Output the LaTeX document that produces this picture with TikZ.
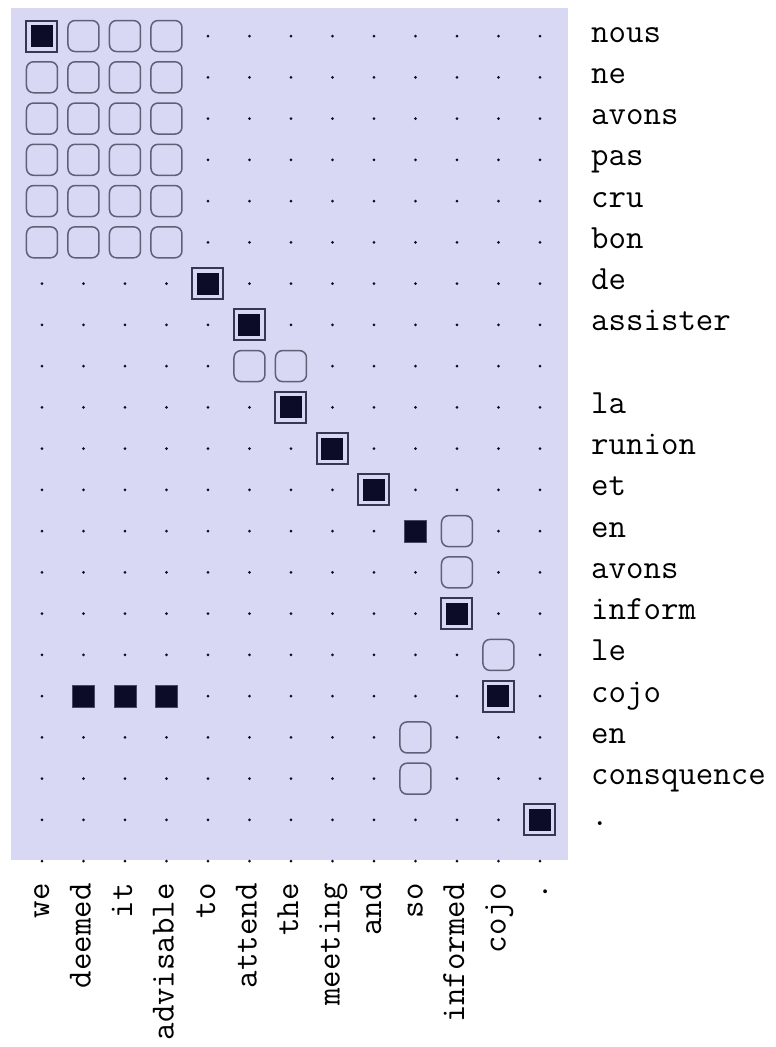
\documentclass[tikz,border=0pt]{standalone}
\usepackage{xcolor}
\usepackage{tikz}
\usetikzlibrary{positioning}
\definecolor{gridbg}{RGB}{216,216,244}
\definecolor{ink}{RGB}{12,12,40}
\definecolor{rim}{RGB}{55,55,80}
\definecolor{softrim}{RGB}{95,95,118}
\tikzset{
  surebox/.style={draw=rim, line width=2pt, fill=gridbg, minimum size=31pt,
                  inner sep=0pt},
  surefill/.style={fill=ink, minimum size=22pt, inner sep=0pt},
  maybebox/.style={draw=softrim, line width=1.5pt, fill=gridbg, rounded corners=7pt,
                   minimum size=31pt, inner sep=0pt},
  plainfill/.style={fill=ink, draw=ink!70!gridbg, line width=0.6pt,
                    minimum size=22pt, inner sep=0pt},
  word/.style={font=\fontsize{33.9}{40}\selectfont\ttfamily, inner sep=0pt},
}

\begin{document}
\begin{tikzpicture}[x=41.5pt,y=-41.26pt]
  \useasboundingbox (-0.012,0.127) rectangle (18.663,25.503);
  \fill[gridbg] (0.25,0.32) rectangle (13.67,20.97);
  % grid dots
  \foreach \c in {1,...,13}
    \foreach \r in {1,...,21}
      \fill[ink] (\c,\r) circle (1.5pt);
  % possible links
  \foreach \c/\r in {2/1,3/1,4/1,1/2,2/2,3/2,4/2,1/3,2/3,3/3,4/3,1/4,2/4,3/4,4/4,
                     1/5,2/5,3/5,4/5,1/6,2/6,3/6,4/6,6/9,7/9,11/13,11/14,12/16,
                     10/18,10/19}
    \node[maybebox] (maybe-\c-\r) at (\c,\r) {};
  % sure links
  \foreach \c/\r in {1/1,5/7,6/8,7/10,8/11,9/12,11/15,12/17,13/20} {
    \node[surebox] (sure-\c-\r) at (\c,\r) {};
    \node[surefill] (core-\c-\r) at (sure-\c-\r.center) {};
  }
  % predicted links
  \foreach \c/\r in {10/13,2/17,3/17,4/17}
    \node[plainfill] (pred-\c-\r) at (\c,\r) {};
  % french words
  \foreach \r/\w in {1/nous,2/ne,3/avons,4/pas,5/cru,6/bon,7/de,8/assister,
                     10/la,11/runion,12/et,13/en,14/avons,15/inform,16/le,
                     17/cojo,18/en,19/consquence,20/.}
    \node[word, anchor=base west] (fr-\r) at (14.23,\r+0.145) {\w};
  % english words
  \foreach \w [count=\c] in {we,deemed,it,advisable,to,attend,the,meeting,
                             and,so,informed,cojo,.}
    \node[word, anchor=base east, rotate=90] (en-\c) at (\c+0.17,21.53) {\w};
\end{tikzpicture}
\end{document}
